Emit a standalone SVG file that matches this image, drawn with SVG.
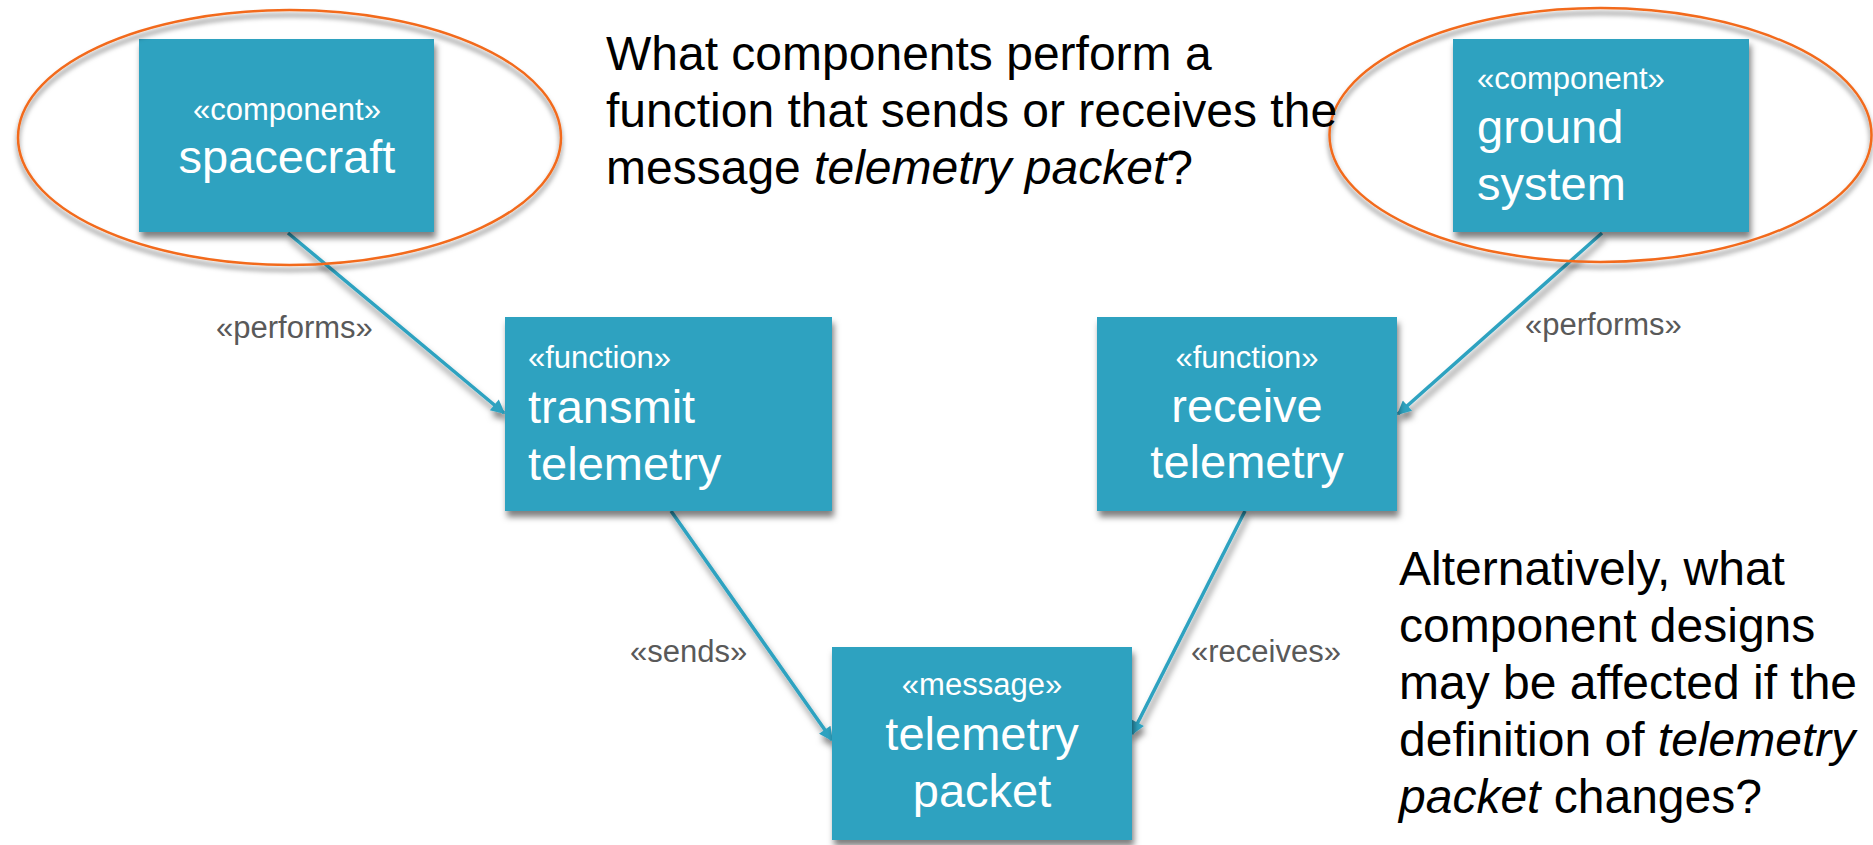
<svg xmlns="http://www.w3.org/2000/svg" width="1873" height="845" viewBox="0 0 1873 845">
<style>
  .box { fill: #2DA2C0; filter: url(#shadow); }
  .st { font-family: "Liberation Sans", Arial, sans-serif; font-size: 31px; fill: #ffffff; }
  .nm { font-family: "Liberation Sans", Arial, sans-serif; font-size: 47px; fill: #ffffff; }
  .el { font-family: "Liberation Sans", Arial, sans-serif; font-size: 31px; fill: #595959; }
  .q { font-family: "Liberation Sans", Arial, sans-serif; font-size: 48px; fill: #000000; }
  .it { font-style: italic; }
  .ring { fill: none; stroke: #F26B1D; stroke-width: 2.5; filter: url(#ringshadow); }
  .conn { fill: none; stroke: #2DA2C0; stroke-width: 3.5; marker-end: url(#arrow); }
</style>
<defs>
  <filter id="shadow" x="-10%" y="-10%" width="125%" height="130%">
    <feDropShadow dx="2" dy="6" stdDeviation="3" flood-color="#000000" flood-opacity="0.5"/>
  </filter>
  <filter id="ringshadow" x="-10%" y="-10%" width="120%" height="130%">
    <feDropShadow dx="0" dy="5" stdDeviation="2.5" flood-color="#000000" flood-opacity="0.55"/>
  </filter>
  <marker id="arrow" viewBox="0 0 10 10" refX="9" refY="5" markerWidth="18" markerHeight="14" markerUnits="userSpaceOnUse" orient="auto">
    <path d="M0,0 L10,5 L0,10 z" fill="#2DA2C0"/>
  </marker>
</defs>
<rect width="1873" height="845" fill="#ffffff"/>

<g id="connectors" filter="url(#shadow)">
  <path class="conn" d="M288,233 L504,413"/>
  <path class="conn" d="M1602,233 L1398,414"/>
  <path class="conn" d="M671,511 L832,740"/>
  <path class="conn" d="M1245,511 L1132,734"/>
</g>

<g id="edge-labels">
  <text class="el" x="216" y="338">«performs»</text>
  <text class="el" x="1525" y="335">«performs»</text>
  <text class="el" x="630" y="662">«sends»</text>
  <text class="el" x="1191" y="662">«receives»</text>
</g>

<g id="spacecraft">
  <rect class="box" x="139" y="39" width="295" height="193"/>
  <text class="st" x="287" y="120" text-anchor="middle">«component»</text>
  <text class="nm" x="287" y="173" text-anchor="middle">spacecraft</text>
</g>

<g id="ground-system">
  <rect class="box" x="1453" y="39" width="296" height="193"/>
  <text class="st" x="1477" y="89">«component»</text>
  <text class="nm" x="1477" y="143">ground</text>
  <text class="nm" x="1477" y="200">system</text>
</g>

<g id="transmit-telemetry">
  <rect class="box" x="505" y="317" width="327" height="194"/>
  <text class="st" x="528" y="368">«function»</text>
  <text class="nm" x="528" y="423">transmit</text>
  <text class="nm" x="528" y="480">telemetry</text>
</g>

<g id="receive-telemetry">
  <rect class="box" x="1097" y="317" width="300" height="194"/>
  <text class="st" x="1247" y="368" text-anchor="middle">«function»</text>
  <text class="nm" x="1247" y="422" text-anchor="middle">receive</text>
  <text class="nm" x="1247" y="478" text-anchor="middle">telemetry</text>
</g>

<g id="telemetry-packet">
  <rect class="box" x="832" y="647" width="300" height="193"/>
  <text class="st" x="982" y="695" text-anchor="middle">«message»</text>
  <text class="nm" x="982" y="750" text-anchor="middle">telemetry</text>
  <text class="nm" x="982" y="807" text-anchor="middle">packet</text>
</g>

<g id="highlight-spacecraft">
  <ellipse class="ring" cx="289.5" cy="137.5" rx="271.5" ry="127.5"/>
</g>
<g id="highlight-ground-system">
  <ellipse class="ring" cx="1600.5" cy="135" rx="271" ry="127"/>
</g>

<g id="question">
  <text class="q" x="606" y="70">What components perform a</text>
  <text class="q" x="606" y="127">function that sends or receives the</text>
  <text class="q" x="606" y="184">message <tspan class="it">telemetry packet</tspan>?</text>
</g>

<g id="alternative">
  <text class="q" x="1399" y="585">Alternatively, what</text>
  <text class="q" x="1399" y="642">component designs</text>
  <text class="q" x="1399" y="699">may be affected if the</text>
  <text class="q" x="1399" y="756">definition of <tspan class="it">telemetry</tspan></text>
  <text class="q" x="1399" y="813"><tspan class="it">packet</tspan> changes?</text>
</g>
</svg>
